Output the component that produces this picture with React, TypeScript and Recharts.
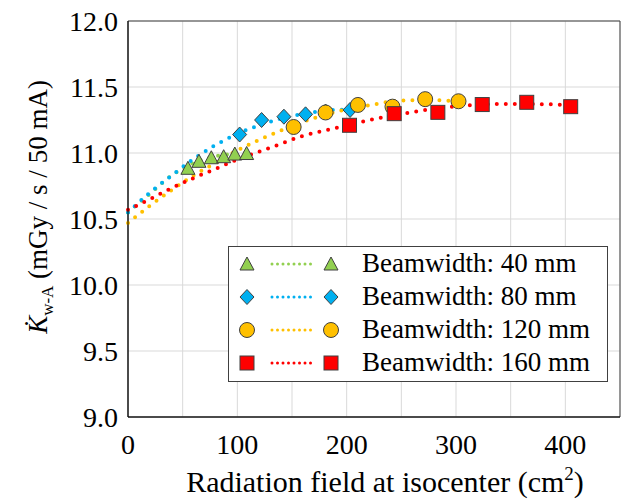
import React from "react"
import {
  ComposedChart, Line, Scatter, XAxis, YAxis, CartesianGrid, ReferenceArea,
} from "recharts"

// measured points (x = field area cm², y = K rate)
const bw40X = [54.8, 64.9, 76.2, 87.5, 97.7, 108.5]
const bw40Y = [10.884, 10.937, 10.964, 10.972, 10.992, 10.996]
const bw80X = [102.1, 122.2, 142.6, 162.4, 180.7, 203.1]
const bw80Y = [11.14, 11.25, 11.275, 11.293, 11.314, 11.326]
const bw120X = [151.5, 180.7, 210.3, 241.9, 271.8, 302.3]
const bw120Y = [11.197, 11.307, 11.364, 11.351, 11.408, 11.392]
const bw160X = [202.6, 243.5, 283.4, 324.0, 364.7, 404.9]
const bw160Y = [11.21, 11.298, 11.308, 11.367, 11.384, 11.351]

// trend lines
const fit40X = [0, 20, 40, 60, 80, 100, 108.5]
const fit40Y = [10.55, 10.69, 10.83, 10.925, 10.975, 10.995, 11.0]
const fit80X = [0, 20, 40, 60, 80, 100, 120, 140, 160, 180, 203.1]
const fit80Y = [10.55, 10.70, 10.83, 10.955, 11.06, 11.145, 11.21, 11.26, 11.295, 11.32, 11.33]
const fit120X = [0, 20, 40, 60, 80, 100, 120, 140, 160, 180, 200, 220, 240, 260, 280, 302.3]
const fit120Y = [10.47, 10.60, 10.72, 10.83, 10.925, 11.02, 11.10, 11.17, 11.235, 11.29, 11.33, 11.36, 11.39, 11.40, 11.40, 11.39]
const fit160X = [0, 20, 40, 60, 80, 100, 120, 140, 160, 180, 200, 230, 260, 290, 320, 350, 380, 404.9]
const fit160Y = [10.57, 10.65, 10.735, 10.81, 10.88, 10.95, 11.01, 11.07, 11.13, 11.17, 11.21, 11.265, 11.31, 11.345, 11.365, 11.372, 11.37, 11.362]

const xTicks = [0, 50, 100, 150, 200, 250, 300, 350, 400, 450]
const yTicks = [9.0, 9.5, 10.0, 10.5, 11.0, 11.5, 12.0]

const zip = (xs: number[], ys: number[]) => xs.map((x, i) => ({ x, y: ys[i] }))

type Shape = "triangle" | "diamond" | "circle" | "square"

const SERIES: { name: string; color: string; shape: Shape; pts: { x: number; y: number }[]; fit: { x: number; y: number }[] }[] = [
  { name: "Beamwidth: 40 mm", color: "#92D050", shape: "triangle", pts: zip(bw40X, bw40Y), fit: zip(fit40X, fit40Y) },
  { name: "Beamwidth: 80 mm", color: "#00B0F0", shape: "diamond", pts: zip(bw80X, bw80Y), fit: zip(fit80X, fit80Y) },
  { name: "Beamwidth: 120 mm", color: "#FFC000", shape: "circle", pts: zip(bw120X, bw120Y), fit: zip(fit120X, fit120Y) },
  { name: "Beamwidth: 160 mm", color: "#FF0000", shape: "square", pts: zip(bw160X, bw160Y), fit: zip(fit160X, fit160Y) },
]

const FONT = "Times New Roman, Liberation Serif, serif"
const EDGE = "#404040"

function Marker({ cx, cy, shape, color }: { cx: number; cy: number; shape: Shape; color: string }) {
  if (shape === "triangle") {
    return <polygon points={`${cx},${cy - 7} ${cx + 7},${cy + 6} ${cx - 7},${cy + 6}`} fill={color} stroke={EDGE} strokeWidth={1} />
  }
  if (shape === "diamond") {
    return <polygon points={`${cx},${cy - 7.5} ${cx + 7},${cy} ${cx},${cy + 7.5} ${cx - 7},${cy}`} fill={color} stroke={EDGE} strokeWidth={1} />
  }
  if (shape === "circle") {
    return <circle cx={cx} cy={cy} r={7.5} fill={color} stroke={EDGE} strokeWidth={1} />
  }
  return <rect x={cx - 7} y={cy - 7} width={14} height={14} fill={color} stroke={EDGE} strokeWidth={1} />
}

function LegendBox() {
  return (
    <div style={{
      position: "absolute", left: 228, top: 246,
      border: "1px solid #404040", background: "#fff", width: 380, height: 136,
      boxSizing: "border-box", fontFamily: FONT, fontSize: 27, color: "#000",
    }}>
      {SERIES.map((s) => (
        <div key={s.name} style={{ display: "flex", alignItems: "center", height: 33 }}>
          <svg width={133} height={30} style={{ flex: "none" }}>
            <Marker cx={18} cy={15} shape={s.shape} color={s.color} />
            <line x1={43} y1={15} x2={83} y2={15} stroke={s.color} strokeWidth={3} strokeDasharray="0 5.5" strokeLinecap="round" />
            <Marker cx={102} cy={15} shape={s.shape} color={s.color} />
          </svg>
          <span style={{ whiteSpace: "nowrap", lineHeight: "33px" }}>{s.name}</span>
        </div>
      ))}
    </div>
  )
}

function YLabel() {
  return (
    <text transform="translate(47,207) rotate(-90)" textAnchor="middle" fontFamily={FONT} fontSize={27} fill="#000">
      <tspan fontStyle="italic">{"K\u0307"}</tspan>
      <tspan fontSize={17} dy={6}>w-A</tspan>
      <tspan dy={-6}> (mGy / s / 50 mA)</tspan>
    </text>
  )
}

function XLabel() {
  return (
    <text x={385} y={492} textAnchor="middle" fontFamily={FONT} fontSize={30} fill="#000">
      Radiation field at isocenter (cm
      <tspan fontSize={19} dy={-12}>2</tspan>
      <tspan dy={12}>)</tspan>
    </text>
  )
}

export default function App() {
  return (
    <div style={{ position: "absolute", left: 0, top: 0, width: 639, height: 502, background: "#fff" }}>
      <ComposedChart width={639} height={502} margin={{ top: 21, right: 19, bottom: 0, left: 0 }}>
        <CartesianGrid stroke="#d9d9d9" strokeWidth={1} />
        <XAxis
          type="number" dataKey="x" domain={[0, 450]} ticks={xTicks} interval={0}
          height={85} tickSize={0} tickMargin={17}
          tick={{ fontFamily: FONT, fontSize: 28, fill: "#000" }}
          tickFormatter={(v: number) => (v % 100 === 0 && v < 450 ? String(v) : "")}
          axisLine={{ stroke: "#000" }} tickLine={false}
          label={{ content: () => <XLabel /> }}
        />
        <YAxis
          type="number" domain={[9, 12]} ticks={yTicks} interval={0}
          width={128} tickSize={0} tickMargin={10}
          tick={{ fontFamily: FONT, fontSize: 28, fill: "#000" }}
          tickFormatter={(v: number) => v.toFixed(1)}
          axisLine={{ stroke: "#000" }} tickLine={false}
          label={{ content: () => <YLabel /> }}
        />
        <ReferenceArea x1={0} x2={450} y1={9} y2={12} fill="none" stroke={EDGE} strokeWidth={1} ifOverflow="visible" />
        {SERIES.map((s) => (
          <Line
            key={s.name + "fit"} data={s.fit} dataKey="y" type="monotone"
            stroke={s.color} strokeWidth={4} strokeDasharray="0 9" strokeLinecap="round"
            dot={false} activeDot={false} isAnimationActive={false} legendType="none"
          />
        ))}
        {SERIES.map((s) => (
          <Scatter
            key={s.name} data={s.pts} dataKey="y" name={s.name} isAnimationActive={false}
            shape={(p: any) => <Marker cx={p.cx} cy={p.cy} shape={s.shape} color={s.color} />}
          />
        ))}
      </ComposedChart>
      <LegendBox />
    </div>
  )
}
